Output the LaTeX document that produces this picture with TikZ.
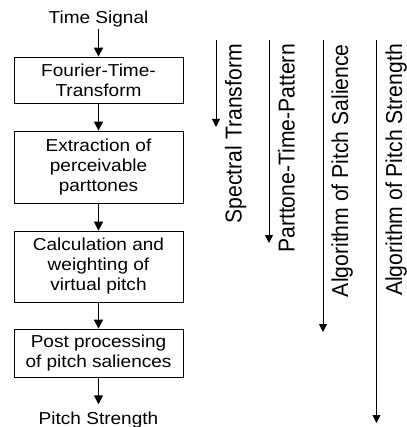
\documentclass[tikz,border=0pt]{standalone}
\usepackage{fontspec}
\setmainfont{Liberation Sans}
\newfontfamily\widefont[FakeStretch=1.1]{Liberation Sans}
\newfontfamily\tallfont[FakeStretch=0.92]{Liberation Sans}
\usepackage{tikz}
\usetikzlibrary{arrows.meta}
\tikzset{
    stagebox/.style={draw, line width=0.8pt, minimum width=169pt, align=center, inner sep=1pt,
        font=\widefont\fontsize{17.3}{20}\selectfont},
    plain label/.style={inner sep=1pt, font=\widefont\fontsize{17.3}{20}\selectfont},
    flow/.style={line width=1.6pt, -{Triangle[width=9pt,length=9pt]}},
    side label/.style={rotate=90, anchor=base east, inner sep=0pt, font=\tallfont\fontsize{23}{26}\selectfont},
    side line/.style={line width=0.8pt, -{Triangle[width=8pt,length=8pt]}},
}

\begin{document}
\begin{tikzpicture}[x=1pt,y=-1pt]
\useasboundingbox (0,0) rectangle (406,427);
\node[plain label, anchor=base] (time) at (98.5,24) {Time Signal};
\node[stagebox, minimum height=46pt] (ftt) at (98.5,80) {Fourier-Time-\\Transform};
\node[stagebox, minimum height=72pt] (extr) at (98.5,167) {Extraction of\\perceivable\\parttones};
\node[stagebox, minimum height=71pt] (calc) at (98.5,266.5) {Calculation and\\weighting of\\virtual pitch};
\node[stagebox, minimum height=48pt] (post) at (98.5,353) {Post processing\\of pitch saliences};
\node[plain label, anchor=base] (strength) at (98.5,424) {Pitch Strength};
\draw[flow] (time) -- (ftt);
\draw[flow] (ftt) -- (extr);
\draw[flow] (extr) -- (calc);
\draw[flow] (calc) -- (post);
\draw[flow, shorten >=6pt] (post) -- (strength);
\coordinate (st top) at (216,40);
\coordinate (st end) at (216,127);
\coordinate (pt top) at (269,40);
\coordinate (pt end) at (269,243);
\coordinate (as top) at (323,40);
\coordinate (as end) at (323,332);
\coordinate (ps top) at (376.5,40);
\coordinate (ps end) at (376.5,423);
\draw[side line] (st top) -- (st end);
\draw[side line] (pt top) -- (pt end);
\draw[side line] (as top) -- (as end);
\draw[side line] (ps top) -- (ps end);
\node[side label] (spectral) at (241.5,44) {Spectral Transform};
\node[side label] (pattern) at (294.5,44) {Parttone-Time-Pattern};
\node[side label] (salience) at (348,44) {Algorithm of Pitch Salience};
\node[side label] (algstrength) at (402,44) {Algorithm of Pitch Strength};
\end{tikzpicture}
\end{document}
